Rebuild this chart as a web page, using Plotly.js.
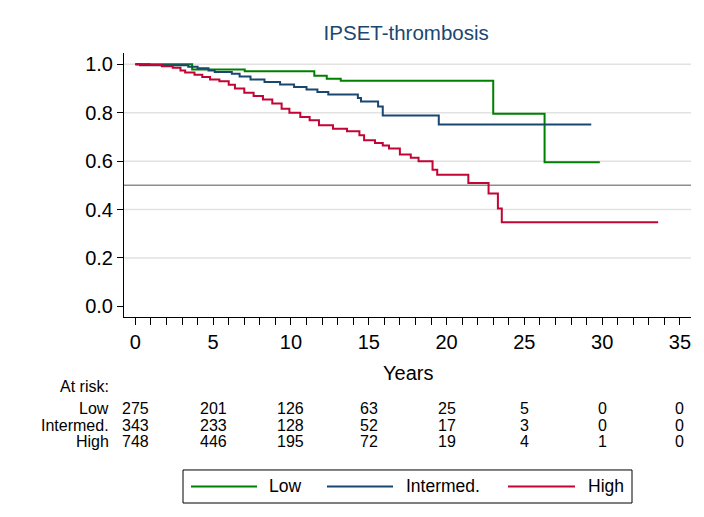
<!DOCTYPE html>
<html>
<head>
<meta charset="utf-8">
<script src="https://cdn.plot.ly/plotly-3.0.1.min.js"></script>
<style>html,body{margin:0;padding:0;background:#fff;}#chart{width:704px;height:517px;}</style>
</head>
<body>
<div id="chart"></div>
<script>
// ---- data ----
var lowT = [0, 3.65, 7.03, 11.5, 12.3, 13.2, 23.0, 26.3, 29.85];
var lowS = [1, 0.979, 0.972, 0.953, 0.941, 0.932, 0.796, 0.596, 0.596];

var intT = [0, 0.3, 3.4, 4.0, 4.7, 5.1, 6.2, 6.7, 7.4, 8.3, 9.3, 10.2, 11.0, 11.7, 12.4, 14.3, 14.5, 15.6, 15.9, 19.5, 29.3];
var intS = [1, 0.996, 0.99, 0.984, 0.975, 0.968, 0.961, 0.950, 0.938, 0.927, 0.917, 0.907, 0.896, 0.886, 0.875, 0.861, 0.847, 0.826, 0.789, 0.752, 0.752];

var highT = [0, 0.9, 1.7, 2.4, 2.9, 3.2, 3.8, 4.3, 4.8, 5.4, 6.0, 6.4, 7.0, 7.6, 8.2, 8.8, 9.4, 9.9, 10.6, 11.2, 11.8, 12.7, 13.6, 14.4, 14.7, 15.4, 15.9, 16.3, 17.0, 17.7, 18.2, 19.1, 19.4, 21.4, 22.7, 23.3, 23.55, 33.6];
var highS = [1, 0.997, 0.992, 0.986, 0.975, 0.966, 0.957, 0.948, 0.938, 0.93, 0.916, 0.9, 0.883, 0.869, 0.855, 0.838, 0.817, 0.80, 0.782, 0.769, 0.748, 0.734, 0.724, 0.707, 0.686, 0.675, 0.665, 0.652, 0.628, 0.614, 0.60, 0.565, 0.544, 0.51, 0.466, 0.404, 0.348, 0.348];

var riskTimes = [0, 5, 10, 15, 20, 25, 30, 35];
var riskLow  = [275, 201, 126, 63, 25, 5, 0, 0];
var riskInt  = [343, 233, 128, 52, 17, 3, 0, 0];
var riskHigh = [748, 446, 195, 72, 19, 4, 1, 0];

var groupNames = ['Low', 'Intermed.', 'High'];
var yTicks = [0, 0.2, 0.4, 0.6, 0.8, 1.0];
var refLine = 0.5;

// ---- styles ----
var colors = ['#008000', '#1a476f', '#c10534'];
var FONT = 'Liberation Sans, Arial, Helvetica, sans-serif';

var traces = [
  {x: lowT, y: lowS, name: groupNames[0]},
  {x: intT, y: intS, name: groupNames[1]},
  {x: highT, y: highS, name: groupNames[2]}
].map(function (t, i) {
  t.type = 'scatter'; t.mode = 'lines';
  t.line = {shape: 'hv', color: colors[i], width: 2};
  t.hoverinfo = 'x+y+name';
  return t;
});

var AXIS_BOTTOM = 316.7; // px of bottom of plot area
var shapes = [];
yTicks.forEach(function (v) {
  if (v > 0) shapes.push({type: 'line', xref: 'paper', yref: 'y', x0: 0, x1: 1, y0: v, y1: v,
    line: {color: '#e2e2e2', width: 1.5}, layer: 'below'});
});
shapes.push({type: 'line', xref: 'paper', yref: 'y', x0: 0, x1: 1, y0: refLine, y1: refLine,
  line: {color: '#8e8e8e', width: 1.5}, layer: 'below'});

var annotations = [];
function ann(o) { annotations.push(Object.assign({showarrow: false, font: {family: FONT, size: 16, color: '#000'}}, o)); }

// axis title
ann({text: 'Years', xref: 'paper', yref: 'paper', x: 0.5, y: 0, yanchor: 'middle', yshift: AXIS_BOTTOM - 372.5, font: {family: FONT, size: 20, color: '#000'}});
// at risk table
var rowY = [408.5, 425, 441.5];
ann({text: 'At risk:', xref: 'paper', yref: 'paper', x: -0.028, xanchor: 'right', xshift: 3, y: 0, yanchor: 'middle', yshift: AXIS_BOTTOM - 386});
[riskLow, riskInt, riskHigh].forEach(function (arr, r) {
  ann({text: groupNames[r], xref: 'paper', yref: 'paper', x: -0.028, xanchor: 'right', xshift: 3, y: 0, yanchor: 'middle', yshift: AXIS_BOTTOM - rowY[r]});
  arr.forEach(function (n, i) {
    ann({text: String(n), xref: 'x', yref: 'paper', x: riskTimes[i], xanchor: 'center', y: 0, yanchor: 'middle', yshift: AXIS_BOTTOM - rowY[r]});
  });
});

// manual legend (paper coords computed from pixels)
var L = 124, W = 567, T = 53, H = AXIS_BOTTOM - 53;
function px(x) { return (x - L) / W; }
function py(y) { return (AXIS_BOTTOM - y) / H; }
shapes.push({type: 'rect', xref: 'paper', yref: 'paper', x0: px(183), x1: px(632), y0: py(469.5), y1: py(502.5),
  line: {color: '#000', width: 1}, fillcolor: 'rgba(0,0,0,0)'});
var legLine = [[191, 257], [327, 393], [508, 575]];
var legText = [267, 404, 586];
groupNames.forEach(function (g, i) {
  shapes.push({type: 'line', xref: 'paper', yref: 'paper', x0: px(legLine[i][0]), x1: px(legLine[i][1]), y0: py(486), y1: py(486),
    line: {color: colors[i], width: 2}});
  ann({text: g, xref: 'paper', yref: 'paper', x: px(legText[i]), xanchor: 'left', y: py(486), yanchor: 'middle', font: {family: FONT, size: 17.5, color: '#000'}});
});

var layout = {
  width: 704, height: 517,
  margin: {l: 124, r: 13, t: 53, b: 517 - AXIS_BOTTOM, pad: 0},
  paper_bgcolor: '#fff', plot_bgcolor: '#fff',
  showlegend: false,
  font: {family: FONT, color: '#000'},
  title: {text: 'IPSET-thrombosis', x: 0.577, xanchor: 'center', y: 1 - 33 / 517, yanchor: 'middle', yref: 'container',
    font: {family: FONT, size: 20.5, color: '#1a476f'}},
  xaxis: {
    range: [-0.73, 35.71], showgrid: false, zeroline: false,
    showline: true, linecolor: '#000', linewidth: 1,
    tickmode: 'array', tickvals: riskTimes, ticks: 'outside', ticklen: 7, tickcolor: '#000', tickwidth: 1,
    tickfont: {family: FONT, size: 20, color: '#000'},
    minor: {dtick: 1, ticks: 'outside', ticklen: 7, tickcolor: '#000', tickwidth: 1, showgrid: false}
  },
  yaxis: {
    range: [-0.044, 1.047], showgrid: false, zeroline: false,
    showline: true, linecolor: '#000', linewidth: 1,
    tickmode: 'array', tickvals: yTicks, tickformat: '.1f',
    ticks: 'outside', ticklen: 6, tickcolor: '#000', tickwidth: 1,
    tickfont: {family: FONT, size: 20, color: '#000'}
  },
  shapes: shapes,
  annotations: annotations
};

Plotly.newPlot('chart', traces, layout, {staticPlot: true, displayModeBar: false});
</script>
</body>
</html>
